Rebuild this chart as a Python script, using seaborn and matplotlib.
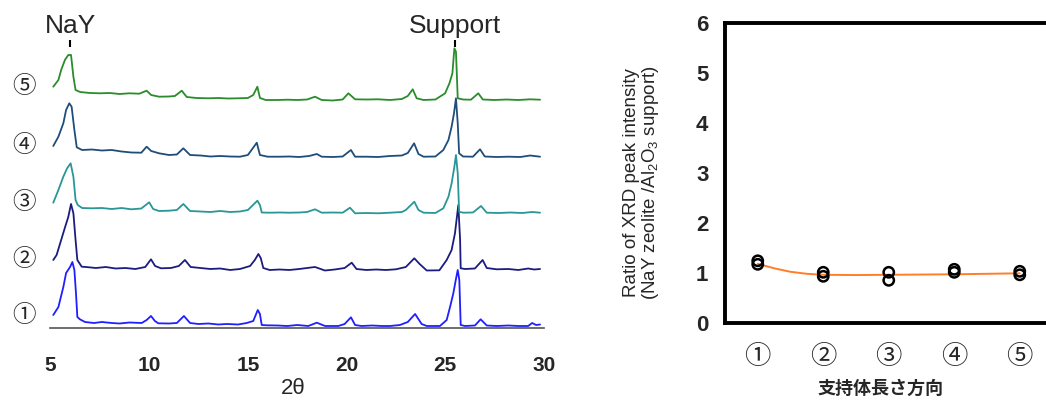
import matplotlib
matplotlib.use("Agg")
import matplotlib.pyplot as plt
from matplotlib import font_manager
import numpy as np
import pandas as pd
import seaborn as sns

# ----------- DATOS: patrones XRD (2theta, intensidad apilada, u.a.) -----------

tt_1 = [5.14, 5.40, 5.65, 5.79, 5.99, 6.11, 6.21, 6.29, 6.36, 6.49, 6.75, 7.2, 7.6, 8.1, 8.5, 9.0,
        9.62, 9.87, 10.09, 10.29, 10.46, 11.0, 11.4, 11.76, 12.07, 12.5, 13.0, 13.5, 13.93, 14.5,
        14.94, 15.27, 15.50, 15.61, 15.70, 15.95, 16.5, 17.0, 17.5, 18.06, 18.49, 18.91, 19.58,
        19.9, 20.22, 20.43, 20.76, 21.3, 21.8, 22.2, 22.7, 23.1, 23.47, 23.8, 24.06, 24.73, 25.07,
        25.24, 25.41, 25.53, 25.63, 25.71, 25.78, 26.0, 26.5, 26.79, 27.1, 27.6, 28.2, 28.7, 29.2,
        29.4, 29.6, 29.8]
xrd_1 = [13, 21, 41, 55, 61, 66, 58, 35, 11, 8.7, 6, 5, 6, 5, 4.5, 5.5,
         5, 8, 12, 7, 4.7, 4.5, 5, 12, 5, 4, 4.5, 3.5, 4, 3.5,
         5, 7, 18, 14, 3, 2.7, 2.5, 2, 3, 2, 5.3, 2, 2,
         4, 10.7, 3, 2, 2.5, 2, 2, 3, 6, 14, 4, 2, 2, 8,
         21, 35, 48, 58, 48, 3, 2, 2.5, 8.7, 2.5, 2, 2.5, 2, 2,
         5, 3, 3.5]

tt_2 = [5.14, 5.31, 5.54, 5.74, 5.90, 6.04, 6.16, 6.27, 6.36, 6.58, 6.8, 7.3, 7.8, 8.3, 8.8, 9.3,
        9.8, 10.09, 10.3, 10.6, 11.1, 11.5, 11.81, 12.1, 12.6, 13.1, 13.6, 14.1, 14.6, 15.11,
        15.35, 15.53, 15.65, 15.78, 16.1, 16.6, 17.1, 17.6, 18.4, 18.9, 19.4, 19.9, 20.26, 20.5,
        21.0, 21.5, 22.0, 22.5, 23.0, 23.43, 23.7, 24.06, 24.7, 25.07, 25.32, 25.49, 25.66, 25.75,
        25.78, 26.0, 26.5, 26.89, 27.1, 27.6, 28.2, 28.7, 29.2, 29.5, 29.8]
xrd_2 = [68, 73, 88, 101, 111, 124, 114.7, 88, 68, 61.3, 61, 60, 61, 59.5, 60, 59,
         61, 68.7, 62, 59.7, 60, 62, 68, 61, 60, 59, 59.5, 58, 59, 62,
         68, 74, 70, 60, 58, 58.5, 58, 59, 61, 57.5, 58.5, 60, 65.3, 59,
         58, 58.5, 58, 58.7, 61, 69.7, 64, 57.5, 57.7, 68, 78, 94.7, 123, 88,
         59.7, 59, 59.5, 68, 60, 58.7, 59, 58, 59.5, 58.5, 59]

tt_3 = [5.14, 5.40, 5.65, 5.84, 6.02, 6.16, 6.27, 6.38, 6.6, 7.1, 7.6, 8.1, 8.6, 9.1, 9.6, 10.0,
        10.2, 10.5, 11.0, 11.4, 11.73, 12.07, 12.6, 13.1, 13.6, 14.1, 14.6, 15.0, 15.48, 15.61,
        15.70, 16.1, 16.6, 17.1, 17.6, 18.0, 18.40, 18.74, 19.3, 19.8, 20.17, 20.43, 21.0, 21.6,
        22.2, 22.8, 23.0, 23.43, 23.64, 23.9, 24.5, 24.90, 25.16, 25.32, 25.46, 25.54, 25.63,
        25.70, 25.9, 26.4, 26.81, 27.1, 27.7, 28.3, 28.9, 29.4, 29.8]
xrd_3 = [125.3, 138, 151.3, 159.7, 164.7, 151.3, 128, 123, 120, 119.7, 120, 119, 120, 118.7, 119.5, 125.7,
         119, 117, 117.3, 118, 124, 117, 116.5, 116, 117, 116, 116.5, 118, 127.3, 123,
         115.5, 115.3, 115.5, 115.3, 115.5, 116, 118.7, 115.3, 115.5, 115.3, 120.3, 114.7, 115, 114.7,
         115.3, 116, 118, 126.3, 118, 115.3, 115, 119.7, 131.3, 144.7, 161.3, 173, 154.7,
         116.3, 115.3, 115.5, 122, 115.3, 115, 115.5, 115, 116, 115.3]

tt_4 = [5.14, 5.40, 5.65, 5.79, 5.95, 6.07, 6.21, 6.33, 6.6, 7.1, 7.6, 8.1, 8.6, 9.1, 9.6, 9.87,
        10.1, 10.5, 11.0, 11.4, 11.73, 12.07, 12.6, 13.1, 13.6, 14.1, 14.6, 15.0, 15.45, 15.61,
        16.0, 16.6, 17.1, 17.6, 18.1, 18.49, 18.74, 19.3, 19.8, 20.22, 20.43, 21.0, 21.6, 22.2,
        22.8, 23.1, 23.42, 23.64, 23.9, 24.5, 24.90, 25.16, 25.32, 25.44, 25.54, 25.63, 25.70,
        25.9, 26.4, 26.76, 27.0, 27.6, 28.2, 28.8, 29.3, 29.8]
xrd_4 = [182, 191.3, 204.7, 218, 224.7, 221.3, 198, 180.7, 178, 178.5, 177.5, 178, 176.5, 175.5, 175.3, 181.3,
         177, 174.7, 173, 173.5, 179.7, 173, 172.5, 171.5, 172, 171.5, 171.3, 173, 185.3, 173,
         171.3, 171.3, 171.5, 171, 172, 174, 171.3, 171, 171.5, 178, 171.3, 171.3, 171, 172,
         172.5, 175, 184.7, 174, 171.3, 171.5, 178, 188, 201.3, 214.7, 229.7, 204.7, 174.7,
         171.5, 171.3, 178.7, 171.5, 171, 171.3, 171, 172.5, 171.3]

tt_5 = [5.14, 5.40, 5.54, 5.73, 5.90, 6.04, 6.16, 6.27, 6.5, 7.0, 7.5, 8.0, 8.5, 9.0, 9.5, 9.87,
        10.1, 10.5, 11.0, 11.3, 11.65, 11.9, 12.4, 13.0, 13.5, 14.0, 14.5, 15.0, 15.27, 15.48,
        15.61, 15.9, 16.5, 17.0, 17.5, 18.0, 18.40, 18.74, 19.3, 19.8, 20.09, 20.43, 21.0, 21.6,
        22.2, 22.8, 23.1, 23.35, 23.55, 23.9, 24.5, 24.99, 25.21, 25.36, 25.46, 25.54, 25.63,
        25.9, 26.3, 26.67, 26.9, 27.5, 28.1, 28.7, 29.3, 29.8]
xrd_5 = [241.3, 248, 258, 268, 273, 273, 251.3, 238, 236, 235, 234.7, 235, 234, 234.7, 234.3, 237.3,
         233, 231.3, 231.5, 232, 237.3, 231, 230, 229.7, 230, 229.5, 229.7, 230, 233, 241.3,
         230, 228, 228, 228.3, 228, 228.5, 231.3, 228, 227.5, 228.5, 234.7, 228.7, 228.5, 228.7,
         228, 229, 232, 238.7, 229.7, 228, 228.5, 234.7, 244.7, 254.7, 279.7, 276.3, 229.7,
         228.5, 228.3, 234.7, 228.5, 228, 228.5, 228, 228.7, 228.3]

samples = ["①", "②", "③", "④", "⑤"]
xrd_colors = ["#1f1fff", "#1c1c80", "#2a9696", "#1f4d7a", "#2a8c2a"]
xrd_ticks = [5, 10, 15, 20, 25, 30]
peak_names = ["NaY", "Support"]
peak_pos = [6.0, 25.5]

# ----------- DATOS: relacion de intensidad (2 medidas por posicion) -----------

ratio_pos = ["①", "①", "②", "②", "③", "③", "④", "④", "⑤", "⑤"]
ratio_val = [1.25, 1.18, 1.02, 0.94, 1.02, 0.86, 1.08, 1.02, 1.04, 0.97]
trend_pos = [0, 0.25, 0.5, 0.75, 1, 1.5, 2, 3, 4]
trend_val = [1.19, 1.10, 1.03, 0.99, 0.97, 0.965, 0.97, 0.98, 1.0]

# ----------- FUENTES -----------

sns.set_style("white")
plt.rcParams["font.family"] = ["Liberation Sans", "Noto Sans CJK JP", "DejaVu Sans"]
plt.rcParams["mathtext.default"] = "regular"
nombres = {f.name for f in font_manager.fontManager.ttflist}
narrow = "Liberation Sans Narrow" in nombres
cjk = ["Noto Sans CJK JP", "DejaVu Sans"]

fig = plt.figure(figsize=(10.46, 4.01), dpi=100)
W, H = 1046, 401

# ----------- PANEL IZQUIERDO: XRD -----------

ax1 = fig.add_axes([50.5 / W, (H - 328) / H, (544 - 50.5) / W, 290 / H])
df = pd.concat([
    pd.DataFrame({"2theta": tt, "I": yy, "sample": s})
    for tt, yy, s in zip([tt_1, tt_2, tt_3, tt_4, tt_5], [xrd_1, xrd_2, xrd_3, xrd_4, xrd_5], samples)
])
sns.lineplot(data=df, x="2theta", y="I", hue="sample", palette=xrd_colors, sort=False,
             estimator=None, legend=False, linewidth=1.3, ax=ax1)
ax1.set_xlim(5, 30)
ax1.set_ylim(0, 290)
ax1.set_facecolor("none")
for lado in ["left", "right", "top"]:
    ax1.spines[lado].set_visible(False)
ax1.spines["bottom"].set_color("#555555")
ax1.spines["bottom"].set_linewidth(1.2)
ax1.set_yticks([])
ax1.set_xticks(xrd_ticks)
ax1.set_xticklabels([str(t) for t in xrd_ticks], fontweight="bold", fontsize=15)
ax1.tick_params(axis="x", direction="in", length=6, width=1.2, color="#555555", pad=20)
ax1.set_xlabel("")
ax1.set_ylabel("")
fig.text(293 / W, 1 - 388 / H, "2θ", ha="center", va="center", fontsize=16)

# etiquetas de muestra a la izquierda
for s, yy in zip(samples, [xrd_1, xrd_2, xrd_3, xrd_4, xrd_5]):
    ax1.text(3.65, yy[0], s, ha="center", va="center", fontsize=17, family=cjk, clip_on=False)

# picos NaY y soporte
for nombre, pos in zip(peak_names, peak_pos):
    ax1.vlines(pos, 281, 288, color="black", linewidth=1.5, clip_on=False)
    ax1.text(pos, 302, nombre, ha="center", va="center", fontsize=19, clip_on=False)

# ----------- PANEL DERECHO: relacion de intensidad -----------

ax2 = fig.add_axes([725 / W, (H - 323.3) / H, 327.5 / W, 300 / H])
x_idx = [samples.index(p) for p in ratio_pos]
sns.lineplot(x=trend_pos, y=trend_val, color="#ff7f27", linewidth=1.4, sort=False,
             estimator=None, ax=ax2)
sns.scatterplot(x=x_idx, y=ratio_val, marker="o", s=55, facecolor="none",
                edgecolor="black", linewidth=1.8, ax=ax2, zorder=3)
ax2.set_xlim(-0.5, 4.5)
ax2.set_ylim(0, 6)
for lado in ["left", "bottom", "top", "right"]:
    ax2.spines[lado].set_linewidth(2.8)
    ax2.spines[lado].set_color("black")
ax2.set_yticks(range(7))
ax2.set_yticklabels([str(v) for v in range(7)], fontweight="bold", fontsize=16)
ax2.tick_params(axis="y", direction="in", length=6, width=1.2, pad=12)
ax2.set_xticks(range(len(samples)))
ax2.set_xticklabels(samples, fontsize=19, family=cjk)
ax2.set_xticks([0.5, 1.5, 2.5, 3.5], minor=True)
ax2.tick_params(axis="x", which="major", length=0, pad=14)
ax2.tick_params(axis="x", which="minor", direction="in", length=7, width=1.2)
ax2.set_xlabel("")
ax2.set_ylabel("")

fig.text(880 / W, 1 - 388 / H, "支持体長さ方向", ha="center", va="center",
         fontsize=13, fontweight="bold", family=cjk)
ylab = "Ratio of XRD peak intensity\n(NaY zeolite /Al$_2$O$_3$ support)"
fig.text(642 / W, 1 - 183 / H, ylab, ha="center", va="center", rotation=90,
         fontsize=16 if narrow else 13.5, linespacing=1.0,
         family="Liberation Sans Narrow" if narrow else "Liberation Sans")

fig.savefig("out.png", dpi=100)
